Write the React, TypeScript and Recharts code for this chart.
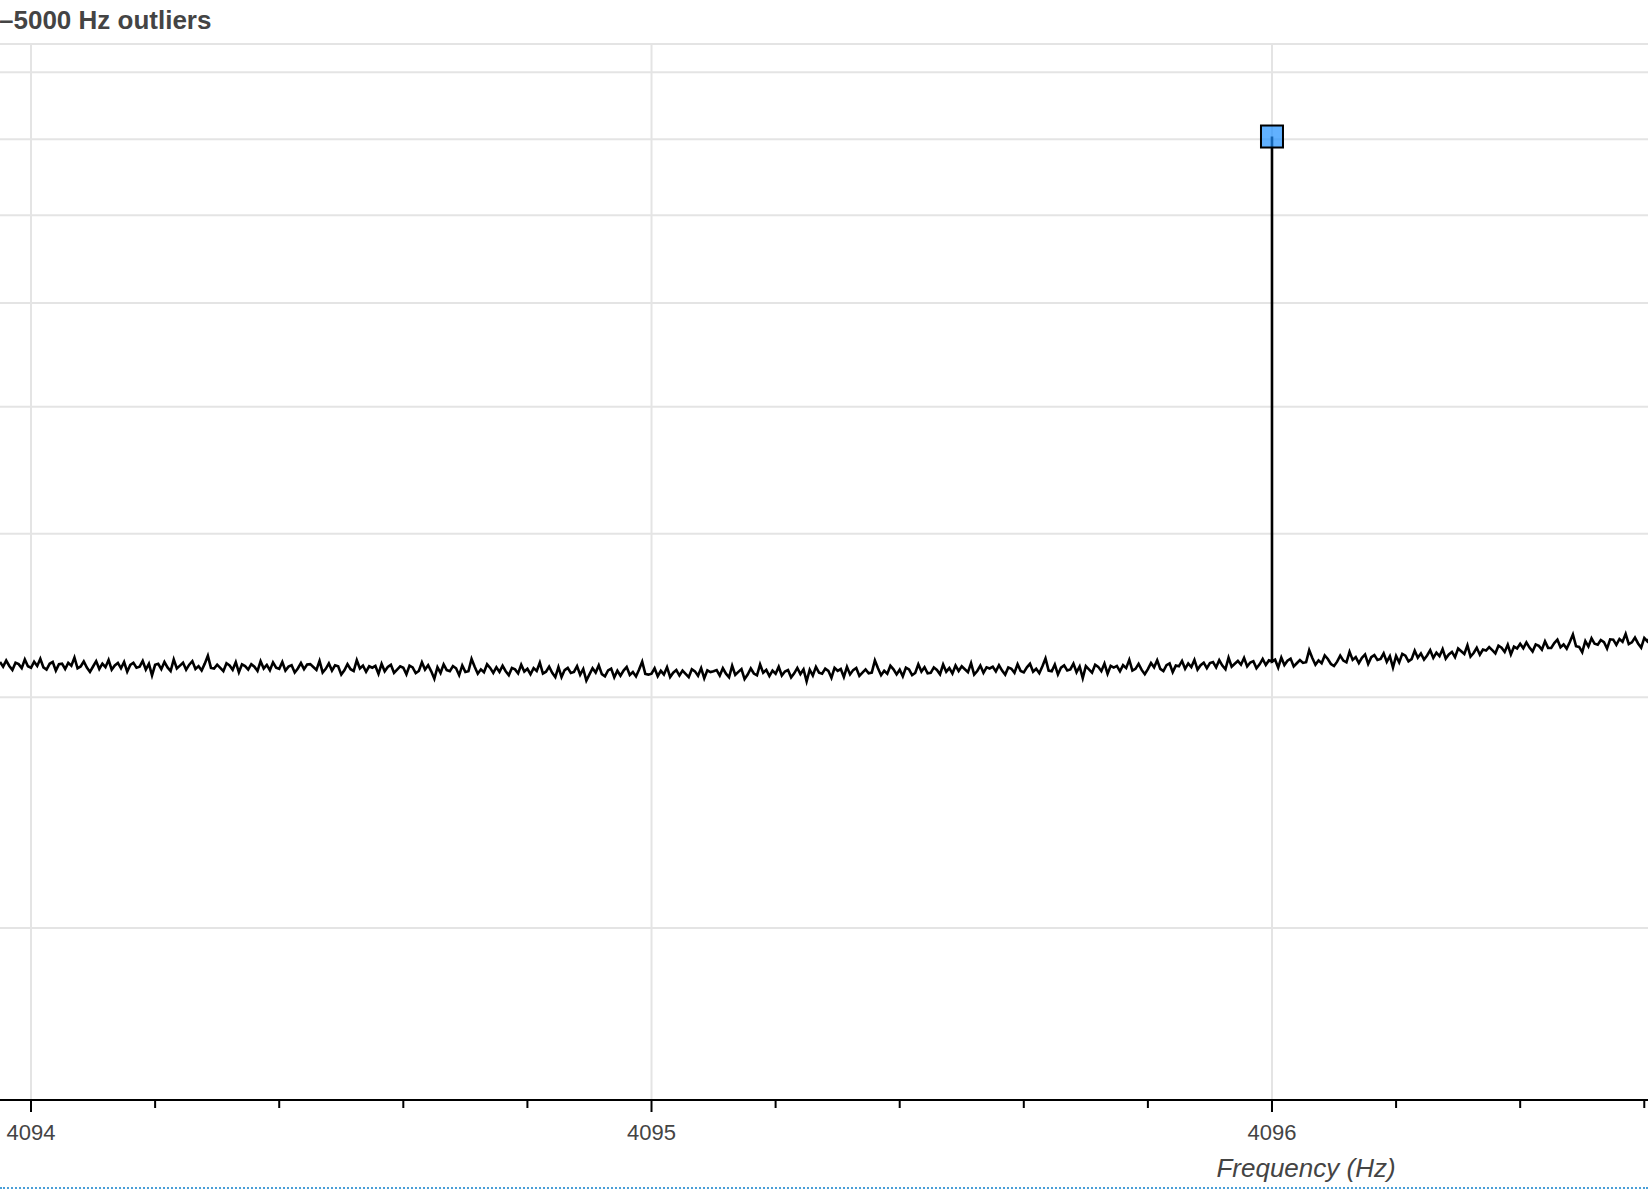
import React from 'react';
import { ComposedChart, Line, Scatter, XAxis, YAxis, CartesianGrid } from 'recharts';

// spectrum samples: start frequency + fixed bin width
const FREQ_START = 4093.95;
const FREQ_STEP = 0.005;

// amplitude per bin (y axis is cropped off, values in thousandths of its unit)
const AMPLITUDE = [
  3192, 3166, 3200, 3170, 3148, 3188, 3180, 3158, 3206, 3168,
  3160, 3194, 3170, 3210, 3162, 3150, 3182, 3192, 3144, 3180,
  3183, 3153, 3187, 3171, 3217, 3157, 3167, 3195, 3161, 3137,
  3167, 3197, 3153, 3183, 3163, 3203, 3149, 3173, 3187, 3157,
  3192, 3138, 3176, 3188, 3160, 3166, 3198, 3150, 3182, 3118,
  3176, 3182, 3152, 3192, 3162, 3142, 3206, 3156, 3172, 3188,
  3149, 3177, 3197, 3153, 3169, 3145, 3183, 3227, 3159, 3155,
  3177, 3159, 3141, 3185, 3173, 3149, 3191, 3135, 3179, 3169,
  3150, 3180, 3166, 3142, 3196, 3156, 3176, 3146, 3190, 3160,
  3154, 3192, 3144, 3166, 3174, 3134, 3156, 3186, 3152, 3178,
  3180, 3164, 3148, 3198, 3134, 3154, 3184, 3144, 3174, 3168,
  3122, 3146, 3180, 3152, 3142, 3202, 3156, 3172, 3138, 3168,
  3160, 3170, 3126, 3182, 3140, 3164, 3176, 3132, 3150, 3168,
  3160, 3124, 3172, 3162, 3130, 3142, 3190, 3150, 3174, 3140,
  3099, 3163, 3131, 3179, 3147, 3141, 3169, 3157, 3119, 3173,
  3137, 3141, 3209, 3165, 3127, 3151, 3135, 3179, 3159, 3131,
  3163, 3137, 3171, 3141, 3119, 3159, 3151, 3129, 3177, 3139,
  3154, 3124, 3158, 3142, 3188, 3128, 3138, 3166, 3132, 3108,
  3163, 3109, 3147, 3159, 3131, 3137, 3169, 3121, 3153, 3089,
  3123, 3157, 3133, 3173, 3125, 3113, 3145, 3155, 3107, 3143,
  3116, 3144, 3164, 3120, 3136, 3112, 3150, 3194, 3126, 3122,
  3127, 3157, 3113, 3143, 3123, 3163, 3109, 3133, 3147, 3117,
  3144, 3126, 3108, 3152, 3140, 3116, 3158, 3102, 3146, 3136,
  3141, 3147, 3117, 3157, 3127, 3107, 3171, 3121, 3137, 3153,
  3098, 3122, 3156, 3128, 3118, 3178, 3132, 3148, 3114, 3144,
  3127, 3165, 3117, 3139, 3147, 3107, 3129, 3159, 3125, 3151,
  3085, 3149, 3117, 3165, 3133, 3127, 3155, 3143, 3105, 3159,
  3143, 3153, 3109, 3165, 3123, 3147, 3159, 3115, 3133, 3151,
  3129, 3133, 3201, 3157, 3119, 3143, 3127, 3171, 3151, 3123,
  3149, 3113, 3161, 3151, 3119, 3131, 3179, 3139, 3163, 3129,
  3132, 3162, 3148, 3124, 3178, 3138, 3158, 3128, 3172, 3142,
  3168, 3152, 3136, 3186, 3122, 3142, 3172, 3132, 3162, 3156,
  3166, 3140, 3174, 3144, 3122, 3162, 3154, 3132, 3180, 3142,
  3134, 3162, 3182, 3138, 3154, 3130, 3168, 3212, 3144, 3140,
  3177, 3123, 3161, 3173, 3145, 3151, 3183, 3135, 3167, 3103,
  3169, 3151, 3133, 3177, 3165, 3141, 3183, 3127, 3171, 3161,
  3170, 3140, 3174, 3158, 3204, 3144, 3154, 3182, 3148, 3124,
  3152, 3186, 3162, 3202, 3154, 3142, 3174, 3184, 3136, 3172,
  3168, 3198, 3154, 3184, 3164, 3204, 3150, 3174, 3188, 3158,
  3186, 3192, 3162, 3202, 3172, 3152, 3216, 3166, 3182, 3198,
  3177, 3215, 3167, 3189, 3197, 3157, 3179, 3209, 3175, 3201,
  3195, 3205, 3161, 3217, 3175, 3199, 3211, 3167, 3185, 3203,
  3187, 3191, 3259, 3215, 3177, 3201, 3185, 3229, 3209, 3181,
  3170, 3194, 3228, 3200, 3190, 3250, 3204, 3220, 3186, 3216,
  3235, 3181, 3219, 3231, 3203, 3209, 3241, 3193, 3225, 3161,
  3226, 3190, 3238, 3228, 3196, 3208, 3256, 3216, 3240, 3206,
  3229, 3259, 3215, 3245, 3225, 3265, 3211, 3235, 3249, 3219,
  3269, 3253, 3237, 3287, 3223, 3243, 3273, 3233, 3263, 3257,
  3277, 3259, 3241, 3285, 3273, 3249, 3291, 3235, 3279, 3269,
  3296, 3270, 3304, 3274, 3252, 3292, 3284, 3262, 3310, 3272,
  3272, 3300, 3320, 3276, 3292, 3268, 3306, 3350, 3282, 3278,
  3248, 3312, 3280, 3328, 3296, 3290, 3318, 3306, 3268, 3322,
  3320, 3290, 3324, 3308, 3354, 3294, 3304, 3332, 3298, 3274,
  3330, 3310, 3336,
];

// the outlier line
const PEAK_FREQ = 4096;
const PEAK_VALUE = 8040;

const X_DOMAIN = [4093.95, 4096.606];
const X_TICKS = [4094, 4094.2, 4094.4, 4094.6, 4094.8, 4095, 4095.2, 4095.4, 4095.6, 4095.8, 4096, 4096.2, 4096.4, 4096.6];
const X_GRID = [4094, 4095, 4096];
const Y_DOMAIN = [1478, 9460];
const Y_GRID = [2000, 3000, 4000, 5000, 6000, 7000, 8000, 9000, 9460];

const FONT = '"Liberation Sans", Arial, Helvetica, sans-serif';

const spectrum: { f: number; v: number }[] = [];
AMPLITUDE.forEach((v, i) => {
  const f = +(FREQ_START + i * FREQ_STEP).toFixed(3);
  spectrum.push({ f, v });
  if (f === PEAK_FREQ) {
    spectrum.push({ f, v: PEAK_VALUE });
    spectrum.push({ f, v });
  }
});
const peak = [{ f: PEAK_FREQ, v: PEAK_VALUE }];

const FreqTick = (props: any) => {
  const { x, y, payload } = props;
  const major = Math.abs(payload.value - Math.round(payload.value)) < 1e-6;
  return (
    <g>
      <line x1={x} x2={x} y1={y} y2={y + (major ? 12 : 8)} stroke="#000" strokeWidth={2} />
      {major && (
        <text x={x} y={y + 40} textAnchor="middle" fill="#444" fontSize={22} fontFamily={FONT}>
          {Math.round(payload.value)}
        </text>
      )}
    </g>
  );
};

const SquareMarker = (props: any) => (
  <rect
    x={props.cx - 11}
    y={props.cy - 11}
    width={22}
    height={22}
    fill="#1e90ff"
    fillOpacity={0.7}
    stroke="#000"
    strokeWidth={2}
  />
);

export default function App() {
  return (
    <div style={{ position: 'absolute', left: 0, top: 0, width: 1648, height: 1190, overflow: 'hidden', background: '#fff' }}>
      <div
        style={{
          position: 'absolute', left: -1, top: 5, fontFamily: FONT, fontWeight: 700,
          fontSize: 26, color: '#444', whiteSpace: 'nowrap',
        }}
      >
        –5000 Hz outliers
      </div>
      <ComposedChart width={1648} height={1190} data={spectrum} margin={{ top: 44, right: 0, bottom: 0, left: 0 }}>
        <CartesianGrid
          stroke="#e4e4e4"
          strokeWidth={2}
          horizontalValues={Y_GRID}
          verticalValues={X_GRID}
        />
        <XAxis
          type="number"
          dataKey="f"
          domain={X_DOMAIN}
          allowDataOverflow
          ticks={X_TICKS}
          interval={0}
          height={90}
          tickSize={0}
          tickMargin={0}
          tickLine={false}
          axisLine={{ stroke: '#000', strokeWidth: 2 }}
          tick={<FreqTick />}
          label={{
            content: () => (
              <text x={1306} y={1177} textAnchor="middle" fill="#444" fontSize={26} fontStyle="italic" fontFamily={FONT}>
                Frequency (Hz)
              </text>
            ),
          }}
        />
        <YAxis type="number" dataKey="v" scale="log" domain={Y_DOMAIN} allowDataOverflow hide />
        <Line
          type="linear"
          dataKey="v"
          stroke="#000"
          strokeWidth={2.6}
          dot={false}
          isAnimationActive={false}
        />
        <Scatter data={peak} dataKey="v" shape={<SquareMarker />} isAnimationActive={false} />
      </ComposedChart>
      <div style={{ position: 'absolute', left: 0, top: 1187, width: 1648, borderTop: '2px dotted #4a9fd8' }} />
    </div>
  );
}
